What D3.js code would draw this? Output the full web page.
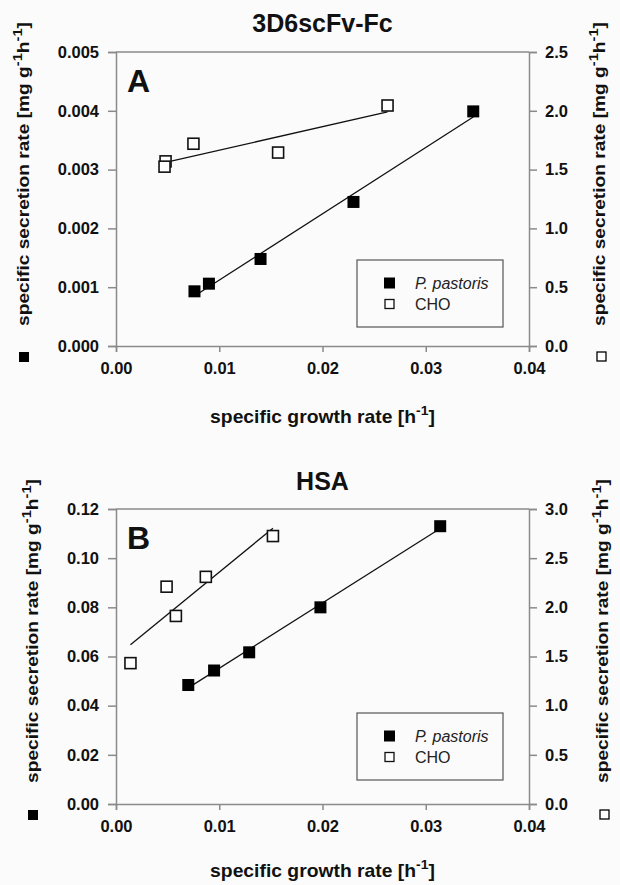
<!DOCTYPE html>
<html>
<head>
<meta charset="utf-8">
<script src="https://cdn.jsdelivr.net/npm/d3@7"></script>
<style>
  html, body { margin: 0; padding: 0; background: #fbfbfb; }
  svg { display: block; font-family: Arial, "Liberation Sans", sans-serif; }
</style>
</head>
<body>
<div id="chart"></div>
<script>
// growth rate ticks (shared)
const xTicks = [0, 0.01, 0.02, 0.03, 0.04];
const legendLabels = ["P. pastoris", "CHO"];

// panel A: 3D6scFv-Fc
const muPastorisA = [0.0076, 0.0090, 0.0140, 0.0230, 0.0346];
const qpPastorisA = [0.00093, 0.00106, 0.00148, 0.00245, 0.00399];
const muChoA = [0.0048, 0.0047, 0.0075, 0.0157, 0.0263];
const qpChoA = [0.00314, 0.00305, 0.00344, 0.00329, 0.00409];
const leftTicksA = [0, 0.001, 0.002, 0.003, 0.004, 0.005];
const rightTicksA = [0, 0.5, 1.0, 1.5, 2.0, 2.5];

// panel B: HSA
const muPastorisB = [0.0070, 0.0095, 0.0129, 0.0198, 0.0314];
const qpPastorisB = [0.0484, 0.0543, 0.0617, 0.0800, 0.1130];
const muChoB = [0.0014, 0.0049, 0.0058, 0.0087, 0.0152];
const qpChoB = [0.0573, 0.0884, 0.0765, 0.0924, 0.1090];
const leftTicksB = [0, 0.02, 0.04, 0.06, 0.08, 0.10, 0.12];
const rightTicksB = [0, 0.5, 1.0, 1.5, 2.0, 2.5, 3.0];

const W = 620, H = 885;
const left = 116, right = 529;
const axisCol = "#8a8a8a";

const svg = d3.select("#chart").append("svg")
  .attr("width", W).attr("height", H);

svg.append("rect").attr("width", W).attr("height", H).attr("fill", "#fbfbfb");

function fitLine(xs, ys) {
  const mx = d3.mean(xs), my = d3.mean(ys);
  let sxy = 0, sxx = 0;
  xs.forEach((x, i) => { sxy += (x - mx) * (ys[i] - my); sxx += (x - mx) * (x - mx); });
  const b = sxy / sxx;
  const x0 = d3.min(xs), x1 = d3.max(xs);
  return [[x0, my + b * (x0 - mx)], [x1, my + b * (x1 - mx)]];
}

// stretch a text along its baseline to a target length
function stretch(t, cx, cy, rot, len) {
  const w = t.node().getComputedTextLength();
  t.attr("transform", `translate(${cx},${cy}) rotate(${rot}) scale(${len / w},1)`);
}

function yLabel(g, x, y) {
  const t = g.append("text")
    .attr("text-anchor", "middle")
    .attr("font-size", 17).attr("font-weight", "bold").attr("fill", "#111");
  t.append("tspan").text("specific secretion rate [mg g");
  t.append("tspan").attr("dy", -7).attr("font-size", 13).text("-1");
  t.append("tspan").attr("dy", 7).text("h");
  t.append("tspan").attr("dy", -7).attr("font-size", 13).text("-1");
  t.append("tspan").attr("dy", 7).text("]");
  stretch(t, x, y, -90, 304);
}

function drawPanel(cfg) {
  const g = svg.append("g");
  const x = d3.scaleLinear().domain([0, 0.04]).range([left, right]);
  const y = d3.scaleLinear().domain([0, d3.max(cfg.leftTicks)]).range([cfg.bottom, cfg.top]);
  const y2 = d3.scaleLinear().domain([0, d3.max(cfg.rightTicks)]).range([cfg.bottom, cfg.top]);

  // frame top
  g.append("line").attr("x1", left).attr("x2", right)
    .attr("y1", cfg.top).attr("y2", cfg.top)
    .attr("stroke", axisCol).attr("stroke-width", 1.5);

  const ax = g.append("g").attr("transform", `translate(0,${cfg.bottom})`)
    .call(d3.axisBottom(x).tickValues(xTicks).tickFormat(d3.format(".2f")).tickSize(6).tickPadding(10));
  const ay = g.append("g").attr("transform", `translate(${left},0)`)
    .call(d3.axisLeft(y).tickValues(cfg.leftTicks).tickFormat(d3.format(cfg.fmt)).tickSize(8).tickPadding(9));
  const ay2 = g.append("g").attr("transform", `translate(${right},0)`)
    .call(d3.axisRight(y2).tickValues(cfg.rightTicks).tickFormat(d3.format(".1f")).tickSize(8).tickPadding(8));

  [ax, ay, ay2].forEach(a => {
    a.selectAll(".domain").attr("stroke", axisCol).attr("stroke-width", 1.5);
    a.selectAll(".tick line").attr("stroke", axisCol).attr("stroke-width", 1.5);
    a.selectAll(".tick text").attr("font-size", 16.5).attr("font-weight", "bold")
      .attr("fill", "#111").attr("font-family", "Arial, 'Liberation Sans', sans-serif");
  });

  // title and panel letter
  g.append("text").attr("x", (left + right) / 2).attr("y", cfg.titleY)
    .attr("text-anchor", "middle").attr("font-size", 25).attr("font-weight", "bold")
    .attr("fill", "#111").text(cfg.title);
  g.append("text").attr("x", 127).attr("y", cfg.top + 40)
    .attr("font-size", 32).attr("font-weight", "bold").attr("fill", "#111").text(cfg.letter);

  // axis titles
  const xl = g.append("text")
    .attr("text-anchor", "middle").attr("font-size", 18).attr("font-weight", "bold").attr("fill", "#111");
  xl.append("tspan").text("specific growth rate [h");
  xl.append("tspan").attr("dy", -8).attr("font-size", 13).text("-1");
  xl.append("tspan").attr("dy", 8).text("]");
  stretch(xl, (left + right) / 2, cfg.bottom + cfg.xLabelOff, 0, 225);

  yLabel(g, cfg.leftLabelX, cfg.top + 122);
  yLabel(g, cfg.rightLabelX, cfg.top + 122);

  // axis symbol keys under the y titles
  g.append("rect").attr("x", cfg.leftLabelX - 6 - 4).attr("y", cfg.bottom + 6)
    .attr("width", 10).attr("height", 10).attr("fill", "#000");
  g.append("rect").attr("x", cfg.rightLabelX - 4 - 4).attr("y", cfg.bottom + 6)
    .attr("width", 9).attr("height", 9).attr("fill", "#fff")
    .attr("stroke", "#000").attr("stroke-width", 1.3);

  // regression lines
  const line = d3.line().x(d => x(d[0])).y(d => y(d[1]));
  [[cfg.muP, cfg.qpP], [cfg.muC, cfg.qpC]].forEach(([xs, ys]) => {
    g.append("path").attr("d", line(fitLine(xs, ys)))
      .attr("fill", "none").attr("stroke", "#111").attr("stroke-width", 1.3);
  });

  const s = 12;
  g.selectAll(".cho").data(d3.zip(cfg.muC, cfg.qpC)).enter().append("rect")
    .attr("x", d => x(d[0]) - s / 2 + 0.5).attr("y", d => y(d[1]) - s / 2 + 0.5)
    .attr("width", s - 1).attr("height", s - 1)
    .attr("fill", "#fff").attr("stroke", "#111").attr("stroke-width", 1.6);
  g.selectAll(".pp").data(d3.zip(cfg.muP, cfg.qpP)).enter().append("rect")
    .attr("x", d => x(d[0]) - s / 2).attr("y", d => y(d[1]) - s / 2)
    .attr("width", s).attr("height", s).attr("fill", "#000");

  // legend
  const lx = 357, ly = cfg.legendTop;
  g.append("rect").attr("x", lx).attr("y", ly).attr("width", 146).attr("height", 67)
    .attr("fill", "none").attr("stroke", "#555").attr("stroke-width", 1.2);
  legendLabels.forEach((lab, i) => {
    const cy = ly + 23 + i * 21;
    if (i === 0) {
      g.append("rect").attr("x", lx + 27).attr("y", cy - 5.5).attr("width", 11).attr("height", 11).attr("fill", "#000");
    } else {
      g.append("rect").attr("x", lx + 28).attr("y", cy - 4.5).attr("width", 9).attr("height", 9)
        .attr("fill", "#fff").attr("stroke", "#111").attr("stroke-width", 1.3);
    }
    g.append("text").attr("x", lx + 58).attr("y", cy + 6)
      .attr("font-size", 16).attr("fill", "#222")
      .attr("font-style", i === 0 ? "italic" : "normal").text(lab);
  });
}

drawPanel({
  title: "3D6scFv-Fc", letter: "A", top: 52, bottom: 346, titleY: 32, legendTop: 260,
  leftTicks: leftTicksA, rightTicks: rightTicksA, fmt: ".3f", xLabelOff: 77,
  muP: muPastorisA, qpP: qpPastorisA, muC: muChoA, qpC: qpChoA,
  leftLabelX: 29, rightLabelX: 605
});

drawPanel({
  title: "HSA", letter: "B", top: 509, bottom: 804, titleY: 490, legendTop: 713,
  leftTicks: leftTicksB, rightTicks: rightTicksB, fmt: ".2f", xLabelOff: 73,
  muP: muPastorisB, qpP: qpPastorisB, muC: muChoB, qpC: qpChoB,
  leftLabelX: 38, rightLabelX: 608
});
</script>
</body>
</html>
